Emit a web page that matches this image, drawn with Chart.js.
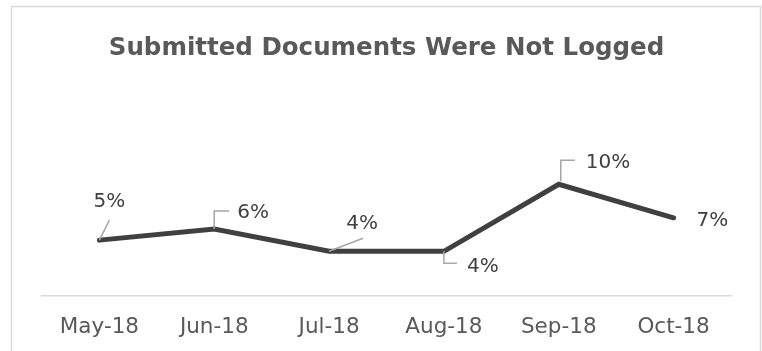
<!DOCTYPE html>
<html>
<head>
<meta charset="utf-8">
<script src="https://cdn.jsdelivr.net/npm/chart.js@4/dist/chart.umd.min.js"></script>
<style>
  html, body { margin:0; padding:0; background:#fff; }
  #wrap { width:762px; height:351px; position:relative; }
</style>
</head>
<body>
<div id="wrap"><canvas id="docChart" width="762" height="351"></canvas></div>
<script>
// monthly share of submitted documents that were not logged
const months = ["May-18","Jun-18","Jul-18","Aug-18","Sep-18","Oct-18"];
const notLogged = [5, 6, 4, 4, 10, 7];

const FONT = "'DejaVu Sans', sans-serif";
const GREY = "#595959";

// where each value label sits relative to its point, plus its leader line
const labelSpots = [
    { dx:10, dy:-38, align:"center", leader:[[0,0],[10,-20]] },
    { dx:23, dy:-16, align:"left",   leader:[[0,0],[0,-18],[15,-18]] },
    { dx:33, dy:-28, align:"center", leader:[[0,0],[34,-13]] },
    { dx:23, dy:15,  align:"left",   leader:[[0,0],[0,12],[13,12]] },
    { dx:27, dy:-21, align:"left",   leader:[[2,-3],[2,-24],[16,-24]] },
    { dx:23, dy:3,   align:"left",   leader:null }
];

// light frame round the whole chart
const framePlugin = {
    id:"frame",
    beforeDraw(chart){
        const c = chart.ctx;
        c.save();
        c.strokeStyle = "#d9d9d9";
        c.lineWidth = 1.5;
        c.strokeRect(11.5, 6.5, 749, 400);
        c.restore();
    }
};

// value labels with leader lines
const valueLabels = {
    id:"valueLabels",
    afterDatasetsDraw(chart){
        const c = chart.ctx;
        const pts = chart.getDatasetMeta(0).data;
        c.save();
        pts.forEach((p, i)=>{
            const s = labelSpots[i];
            if(s.leader){
                c.beginPath();
                s.leader.forEach(([x,y], k)=>{
                    if(k===0) c.moveTo(p.x+x, p.y+y);
                    else c.lineTo(p.x+x, p.y+y);
                });
                c.strokeStyle = "#a6a6a6";
                c.lineWidth = 1.5;
                c.stroke();
            }
            c.font = "20px " + FONT;
            c.fillStyle = "#404040";
            c.textAlign = s.align;
            c.textBaseline = "middle";
            c.fillText(notLogged[i] + "%", p.x+s.dx, p.y+s.dy);
        });
        c.restore();
    }
};

new Chart(document.getElementById("docChart"), {
    type:"line",
    data:{
        labels:months,
        datasets:[{
            data:notLogged,
            borderColor:"#404040",
            borderWidth:5,
            borderCapStyle:"round",
            pointRadius:0,
            tension:0
        }]
    },
    options:{
        responsive:false,
        animation:false,
        layout:{ padding:{ left:42, right:31, top:0, bottom:0 } },
        plugins:{
            legend:{ display:false },
            tooltip:{ enabled:false },
            title:{
                display:true,
                text:"Submitted Documents Were Not Logged",
                color:GREY,
                font:{ family:FONT, size:24.5, weight:"bold", lineHeight:1.2 },
                padding:{ top:34, bottom:65 }
            }
        },
        scales:{
            x:{
                offset:true,
                grid:{ display:false, drawTicks:false },
                border:{ display:true, color:"#d9d9d9", width:1.5 },
                ticks:{ color:GREY, font:{ family:FONT, size:21.5 }, padding:19, maxRotation:0 },
                afterFit(scale){ scale.height = 55; }
            },
            y:{
                display:false,
                min:0,
                max:15
            }
        }
    },
    plugins:[framePlugin, valueLabels]
});
</script>
</body>
</html>
